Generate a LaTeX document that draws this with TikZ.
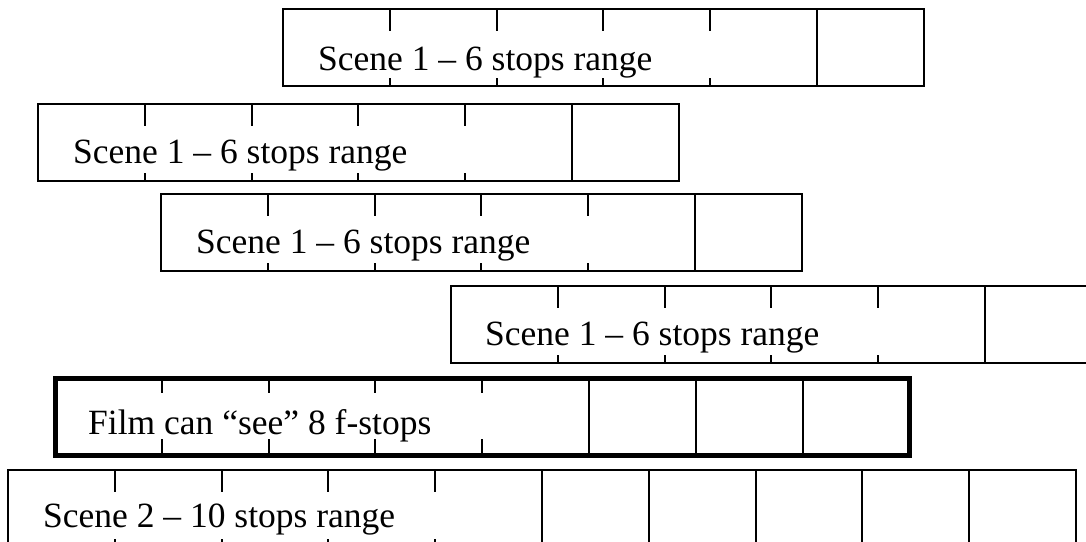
\documentclass[tikz,border=0pt]{standalone}
\usepackage{fontspec}
\setmainfont{Liberation Serif}
\newcommand{\stopstrip}[6]{%
  \draw[#4] (#1,#2) rectangle ++(#3*106.8,77);
  \foreach \i in {1,...,4} {\draw[tick] (#1+\i*106.8,#2) -- ++(0,#5) (#1+\i*106.8,#2+77) -- ++(0,-#6);}
  \pgfmathtruncatemacro\lastdiv{#3-1}
  \foreach \i in {5,...,\lastdiv} {\draw[tick] (#1+\i*106.8,#2) -- ++(0,77);}
}
\begin{document}
\begin{tikzpicture}[x=1pt,y=-1pt,
  frame/.style={draw=black, line width=2pt},
  thickframe/.style={draw=black, line width=5pt},
  tick/.style={draw=black, line width=2pt},
  lbl/.style={anchor=base west, inner sep=0pt, font=\fontsize{35.5}{40}\selectfont}]
\useasboundingbox (0,0) rectangle (1086,541);
\begin{scope}
\clip (0,0) rectangle (1086,541);
\stopstrip{283}{9}{6}{frame}{22}{8}
\stopstrip{38}{104}{6}{frame}{22}{8}
\stopstrip{161}{194}{6}{frame}{22}{8}
\stopstrip{451}{286}{6}{frame}{22}{8}
\stopstrip{55}{378}{8}{thickframe}{15}{16}
\stopstrip{8}{470}{10}{frame}{22}{8}
\node[lbl] (t1) at (318,70) {Scene 1 – 6 stops range};
\node[lbl] (t2) at (73,163) {Scene 1 – 6 stops range};
\node[lbl] (t3) at (196,253) {Scene 1 – 6 stops range};
\node[lbl] (t4) at (485,345) {Scene 1 – 6 stops range};
\node[lbl] (t5) at (88,434) {Film can “see” 8 f-stops};
\node[lbl] (t6) at (43,527) {Scene 2 – 10 stops range};
\end{scope}
\end{tikzpicture}
\end{document}
